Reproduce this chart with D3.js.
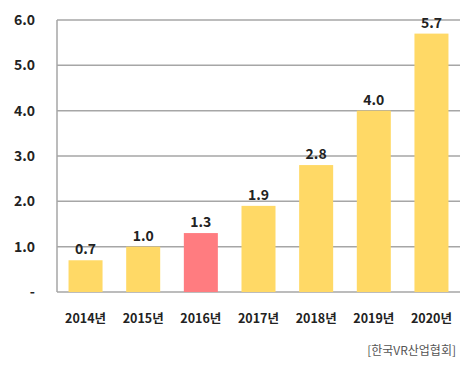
<!DOCTYPE html>
<html>
<head>
<meta charset="utf-8">
<script src="https://cdn.jsdelivr.net/npm/d3@7"></script>
<style>
  body { margin: 0; background: #fff; }
  text { font-family: "Noto Sans CJK KR", "Noto Sans", sans-serif; }
</style>
</head>
<body>
<svg id="chart" width="470" height="365"></svg>
<script>
const years = ['2014년', '2015년', '2016년', '2017년', '2018년', '2019년', '2020년'];
const values = [0.7, 1.0, 1.3, 1.9, 2.8, 4.0, 5.7];
const yTicks = [0, 1, 2, 3, 4, 5, 6];
const highlight = '2016년';

const svg = d3.select('#chart');
const m = { left: 57, right: 460, top: 20, bottom: 292 };

const x = d3.scaleBand().domain(years).range([m.left, m.right]).paddingInner(0.41).paddingOuter(0.2);
const y = d3.scaleLinear().domain([0, 6]).range([m.bottom, m.top]);

// gridlines
svg.append('g').selectAll('line').data(yTicks).join('line')
  .attr('x1', m.left).attr('x2', m.right)
  .attr('y1', d => y(d)).attr('y2', d => y(d))
  .attr('stroke', '#a6a6a6').attr('stroke-width', 1.5);

// left axis line
svg.append('line')
  .attr('x1', m.left).attr('x2', m.left)
  .attr('y1', y(6)).attr('y2', y(0))
  .attr('stroke', '#a6a6a6').attr('stroke-width', 1.5);

// y tick labels
svg.append('g').selectAll('text').data(yTicks).join('text')
  .attr('x', 35).attr('y', d => y(d)).attr('dy', '0.35em')
  .attr('text-anchor', 'end')
  .attr('font-size', 14).attr('font-weight', 'bold').attr('fill', '#222')
  .text(d => d === 0 ? '-' : d.toFixed(1));

// bars
svg.append('g').selectAll('rect').data(years).join('rect')
  .attr('x', d => x(d)).attr('width', x.bandwidth())
  .attr('y', (d, i) => y(values[i])).attr('height', (d, i) => y(0) - y(values[i]))
  .attr('fill', d => d === highlight ? '#ff7c80' : '#ffd966');

// value labels
svg.append('g').selectAll('text').data(years).join('text')
  .attr('x', d => x(d) + x.bandwidth() / 2)
  .attr('y', (d, i) => y(values[i]) - 6)
  .attr('text-anchor', 'middle')
  .attr('font-size', 14).attr('font-weight', 'bold').attr('fill', '#222')
  .text((d, i) => values[i].toFixed(1));

// x labels
svg.append('g').selectAll('text').data(years).join('text')
  .attr('x', d => x(d) + x.bandwidth() / 2)
  .attr('y', 323)
  .attr('text-anchor', 'middle')
  .attr('font-size', 12.5).attr('font-weight', 'bold').attr('fill', '#222')
  .text(d => d);

// source
svg.append('text')
  .attr('x', 456).attr('y', 355)
  .attr('text-anchor', 'end')
  .attr('font-size', 12).attr('fill', '#555')
  .text('[한국VR산업협회]');
</script>
</body>
</html>
